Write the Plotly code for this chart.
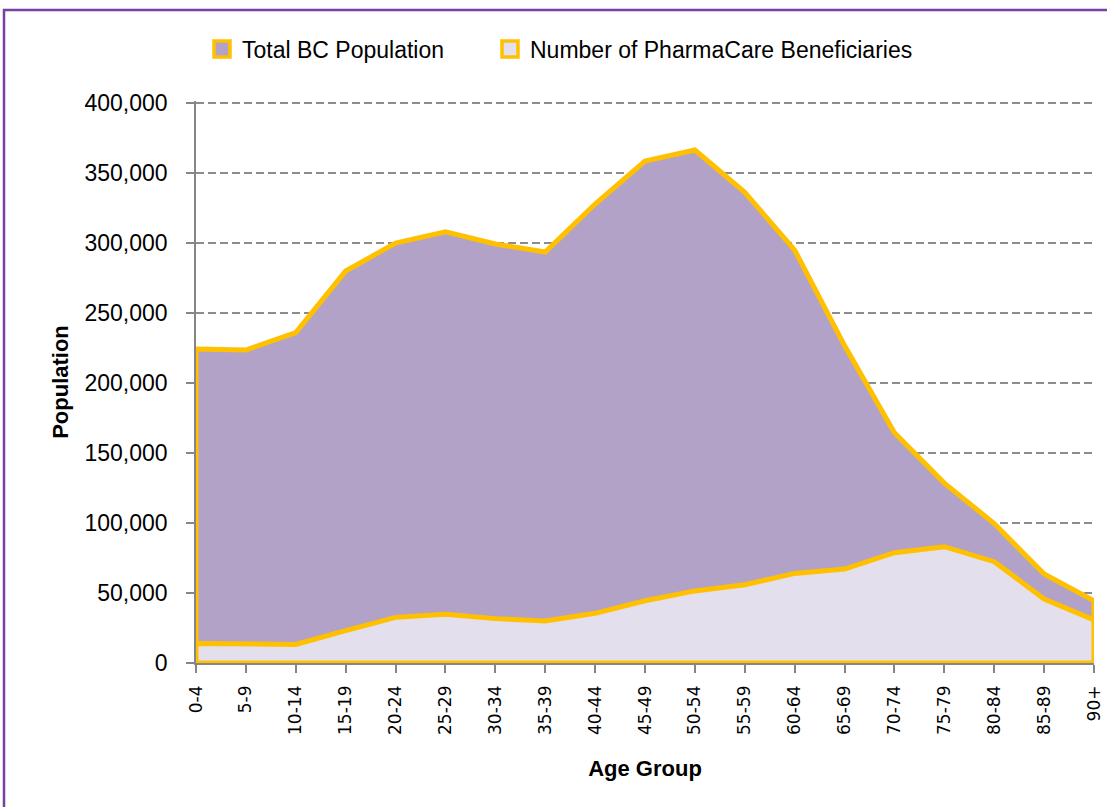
import plotly.graph_objects as go

age_groups = ["0-4", "5-9", "10-14", "15-19", "20-24", "25-29", "30-34", "35-39",
              "40-44", "45-49", "50-54", "55-59", "60-64", "65-69", "70-74", "75-79",
              "80-84", "85-89", "90+"]
total_bc_population = [224300, 223600, 236000, 280000, 300000, 308000, 299300, 293600,
                       327900, 358600, 366500, 336300, 295000, 226800, 164500, 128500,
                       99600, 63600, 44400]
pharmacare_beneficiaries = [14000, 14000, 13300, 23100, 32600, 34800, 31700, 30000,
                            35500, 44500, 51500, 55900, 64000, 67100, 78800, 83100,
                            72400, 45700, 30700]
series_names = ["Total BC Population", "Number of PharmaCare Beneficiaries"]
y_tick_values = [0, 50000, 100000, 150000, 200000, 250000, 300000, 350000, 400000]
y_tick_labels = ["0", "50,000", "100,000", "150,000", "200,000", "250,000",
                 "300,000", "350,000", "400,000"]

GOLD = "#FFC000"
FILL_TOTAL = "#B2A2C7"
FILL_BENEF = "#E4DFEC"
GRID = "#8C8C8C"
AXIS = "#868686"
FONT = "Liberation Sans"

TOP = 101
PLOT_H = 663 - TOP


def closed(xs, ys):
    return xs + [xs[-1], xs[0], xs[0]], ys + [0, 0, ys[0]]


fig = go.Figure()
for name, vals, fc in [(series_names[0], total_bc_population, FILL_TOTAL),
                       (series_names[1], pharmacare_beneficiaries, FILL_BENEF)]:
    xs, ys = closed(age_groups, vals)
    fig.add_trace(go.Scatter(
        x=xs, y=ys, mode="lines", fill="toself", fillcolor=fc,
        line=dict(color=GOLD, width=5), name=name, showlegend=False,
        cliponaxis=False, hoverinfo="skip"))

for name, fc, lg in [(series_names[0], FILL_TOTAL, "legend"),
                     (series_names[1], FILL_BENEF, "legend2")]:
    fig.add_trace(go.Scatter(
        x=[None], y=[None], mode="markers", name=name, legend=lg,
        marker=dict(symbol="square", size=16, color=fc, line=dict(color=GOLD, width=3.5))))

legend_common = dict(orientation="h", yanchor="middle", y=(663 - 49) / PLOT_H, xanchor="left",
                     font=dict(family=FONT, size=23), bgcolor="rgba(0,0,0,0)")

fig.update_layout(
    width=1107, height=807,
    margin=dict(l=196, r=13, t=TOP, b=144, autoexpand=False),
    paper_bgcolor="white", plot_bgcolor="white",
    font=dict(family=FONT, size=23, color="#000000"),
    showlegend=True,
    legend=dict(legend_common, x=(202 - 196) / 898),
    legend2=dict(legend_common, x=(490 - 196) / 898),
    xaxis=dict(
        type="category", range=[0, 18], showgrid=False, zeroline=False,
        showline=True, linecolor=AXIS, linewidth=1.5,
        ticks="outside", ticklen=8, tickcolor=AXIS, tickwidth=1.5,
        tickangle=-90, tickfont=dict(family="DejaVu Sans", size=17),
        ticklabelstandoff=6,
        title=dict(text="<b>Age Group</b>", font=dict(family=FONT, size=22), standoff=27)),
    yaxis=dict(
        range=[0, 401500], tickvals=y_tick_values, ticktext=y_tick_labels,
        showgrid=True, gridcolor=GRID, gridwidth=1.5, griddash="8px,4px",
        zeroline=False, showline=True, linecolor=AXIS, linewidth=1.5,
        ticks="outside", ticklen=8, tickcolor=AXIS, tickwidth=1.5,
        tickfont=dict(family=FONT, size=23), ticklabelstandoff=14,
        title=dict(text="<b>Population</b>", font=dict(family=FONT, size=22), standoff=10)),
    shapes=[dict(type="rect", xref="paper", yref="paper",
                 x0=(4 - 196) / 898, x1=(1112 - 196) / 898,
                 y0=(663 - 812) / PLOT_H, y1=(663 - 10) / PLOT_H,
                 line=dict(color="#7A3FA3", width=2.5), layer="below")],
)

fig.write_html("out.html", config={"displayModeBar": False},
               post_script="document.body.style.margin='0';")
